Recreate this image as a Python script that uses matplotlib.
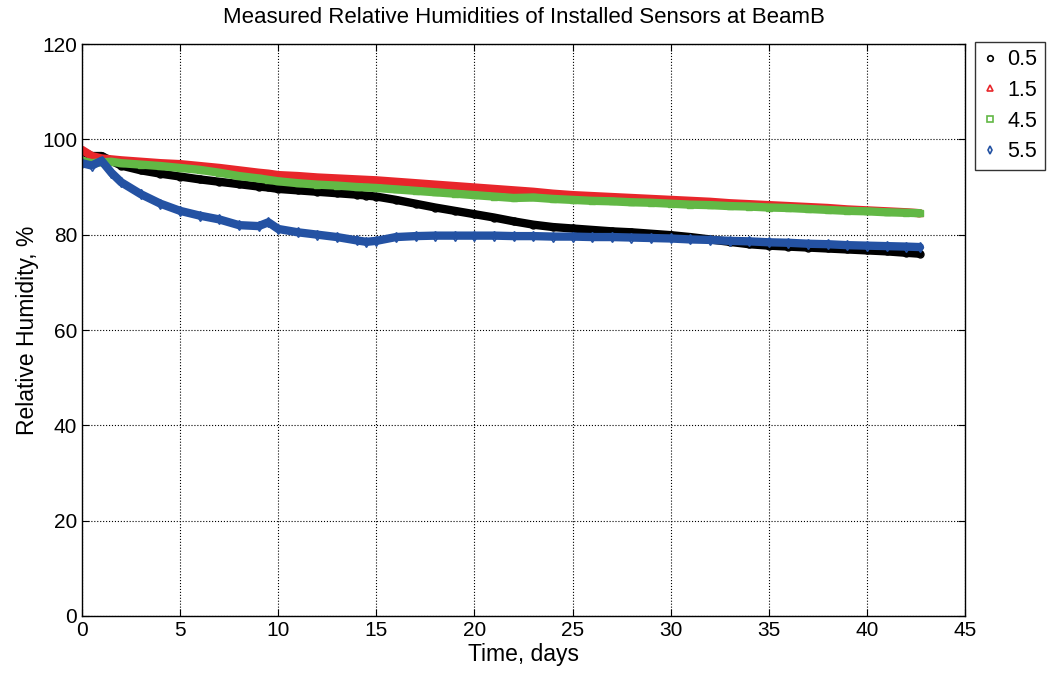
import matplotlib
matplotlib.use('Agg')
import matplotlib.pyplot as plt
from matplotlib.lines import Line2D

plt.rcParams['font.family'] = ['Liberation Sans', 'DejaVu Sans']

# Time points (days)
days = [0, 0.5, 1, 1.5, 2, 3, 4, 5, 6, 7, 8, 9, 9.5, 10, 11, 12, 13, 14, 14.5, 15,
        16, 17, 18, 19, 20, 21, 22, 23, 24, 25, 26, 27, 28, 29, 30, 31, 32, 33, 34,
        35, 36, 37, 38, 39, 40, 41, 42, 42.7]

# Relative humidity per sensor depth
rh_05 = [97.5, 96.5, 96.5, 95.5, 94.5, 93.5, 92.8, 92.2, 91.6, 91.1, 90.6, 90.1, 89.9,
         89.6, 89.3, 89.0, 88.7, 88.4, 88.2, 88.0, 87.3, 86.5, 85.7, 85.0, 84.3, 83.6,
         82.8, 82.1, 81.6, 81.3, 81.0, 80.7, 80.5, 80.2, 79.9, 79.5, 79.0, 78.5, 78.0,
         77.7, 77.5, 77.3, 77.1, 76.9, 76.7, 76.5, 76.2, 76.0]
rh_15 = [97.8, 96.5, 96.0, 95.8, 95.6, 95.3, 95.0, 94.8, 94.4, 94.0, 93.5, 93.0, 92.8,
         92.5, 92.3, 92.0, 91.8, 91.6, 91.5, 91.4, 91.1, 90.8, 90.5, 90.2, 89.9, 89.6,
         89.3, 89.0, 88.6, 88.3, 88.1, 87.9, 87.7, 87.5, 87.3, 87.1, 86.9, 86.6, 86.4,
         86.2, 86.0, 85.8, 85.6, 85.3, 85.1, 84.9, 84.7, 84.5]
rh_45 = [95.5, 95.0, 95.2, 95.3, 95.0, 94.7, 94.4, 94.0, 93.6, 93.0, 92.3, 91.8, 91.5,
         91.2, 90.8, 90.5, 90.3, 90.0, 89.9, 89.8, 89.5, 89.2, 88.9, 88.6, 88.3, 88.0,
         87.7, 87.8, 87.5, 87.3, 87.1, 87.0, 86.8, 86.7, 86.5, 86.3, 86.2, 86.0, 85.9,
         85.7, 85.6, 85.4, 85.2, 85.0, 84.9, 84.7, 84.6, 84.5]
rh_55 = [95.0, 94.5, 95.5, 93.0, 91.0, 88.5, 86.5, 85.0, 84.0, 83.2, 82.0, 81.8, 82.6,
         81.2, 80.5, 80.0, 79.5, 78.8, 78.5, 78.7, 79.5, 79.7, 79.8, 79.8, 79.8, 79.8,
         79.7, 79.7, 79.6, 79.6, 79.5, 79.5, 79.4, 79.3, 79.2, 79.0, 78.9, 78.7, 78.6,
         78.4, 78.3, 78.1, 78.0, 77.8, 77.7, 77.6, 77.5, 77.4]

labels = ['0.5', '1.5', '4.5', '5.5']
colors = ['black', '#e8262b', '#62b845', '#2452a3']
markers = ['o', '^', 's', 'd']
series = [rh_05, rh_15, rh_45, rh_55]

fig = plt.figure(figsize=(10.48, 6.73), dpi=100)
ax = fig.add_axes([0.0782, 0.0847, 0.8426, 0.8499])

for vals, c, m in zip(series, colors, markers):
    ax.plot(days, vals, color=c, lw=6, solid_capstyle='round',
            marker=m, ms=5, mfc='none', mec=c, mew=1)

ax.set_xlim(0, 45)
ax.set_ylim(0, 120)
ax.set_xticks(range(0, 46, 5))
ax.set_yticks(range(0, 121, 20))
ax.grid(True, color='black', linestyle=':', linewidth=0.8)
ax.tick_params(direction='in', labelsize=15, length=5, top=True, right=True)
for s in ax.spines.values():
    s.set_linewidth(1)

ax.set_title('Measured Relative Humidities of Installed Sensors at BeamB', fontsize=16, pad=15)
ax.set_xlabel('Time, days', fontsize=16.5, labelpad=2)
ax.set_ylabel('Relative Humidity, %', fontsize=16.5, labelpad=2)

handles = [Line2D([], [], linestyle='none', marker=m, color=c, mfc='none', ms=4, mew=1.2)
           for c, m in zip(colors, markers)]
leg = ax.legend(handles, labels, loc='upper left', bbox_to_anchor=(1.011, 1.004),
                fontsize=15.5, frameon=True, fancybox=False, edgecolor='black',
                handlelength=0.7, handletextpad=0.45, borderpad=0.35, labelspacing=0.45,
                borderaxespad=0)
leg.get_frame().set_linewidth(1)

fig.savefig('out.png', dpi=100)
